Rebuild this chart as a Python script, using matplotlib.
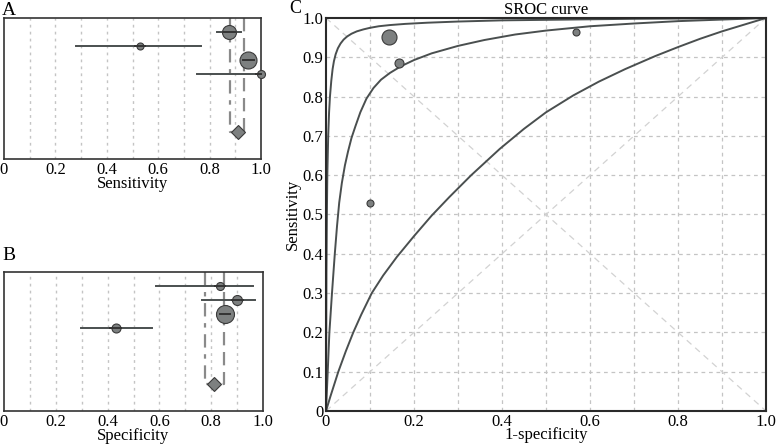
import matplotlib
matplotlib.use("Agg")
import matplotlib.pyplot as plt

plt.rcParams['font.family'] = ['Liberation Serif', 'DejaVu Serif']

# ---- data ----
sens = [0.877, 0.529, 0.951, 1.0]
sens_lo = [0.827, 0.279, 0.925, 0.752]
sens_hi = [0.921, 0.767, 0.981, 1.0]
spec = [0.834, 0.901, 0.853, 0.431]
spec_lo = [0.586, 0.763, 0.821, 0.296]
spec_hi = [0.960, 0.969, 0.885, 0.573]
pooled_sens = 0.911
pooled_sens_ci = [0.881, 0.934]
pooled_spec = 0.812
pooled_spec_ci = [0.776, 0.851]

study_fpr = [0.100, 0.143, 0.166, 0.568]
study_sens = [0.530, 0.951, 0.885, 0.964]

mid_x = [0, 0.0038, 0.0076, 0.0136, 0.020, 0.025, 0.030, 0.036, 0.043, 0.05, 0.058,
         0.067, 0.078, 0.092, 0.108, 0.125, 0.145, 0.17, 0.2, 0.24, 0.3, 0.36, 0.43,
         0.5, 0.6, 0.7, 0.8, 0.9, 1.0]
mid_y = [0, 0.097, 0.198, 0.30, 0.40, 0.47, 0.53, 0.58, 0.625, 0.66, 0.695,
         0.725, 0.76, 0.795, 0.822, 0.843, 0.86, 0.877, 0.893, 0.91, 0.929, 0.944, 0.958,
         0.968, 0.979, 0.986, 0.992, 0.996, 1.0]
low_x = [0, 0.01, 0.028, 0.045, 0.062, 0.08, 0.104, 0.13, 0.161, 0.2, 0.24, 0.28,
         0.33, 0.395, 0.45, 0.5, 0.562, 0.62, 0.68, 0.748, 0.8, 0.85, 0.9, 0.95, 1.0]
low_y = [0, 0.037, 0.1, 0.152, 0.2, 0.245, 0.3, 0.345, 0.392, 0.445, 0.497, 0.544,
         0.6, 0.667, 0.718, 0.76, 0.803, 0.838, 0.870, 0.903, 0.926, 0.947, 0.966, 0.983, 1.0]
up_x = [0, 0.001, 0.002, 0.003, 0.005, 0.007, 0.009, 0.012, 0.015, 0.018, 0.022,
        0.027, 0.033, 0.04, 0.048, 0.058, 0.07, 0.085, 0.1, 0.12, 0.145, 0.18, 0.23,
        0.3, 0.4, 0.55, 0.7, 0.85, 1.0]
up_y = [0, 0.35, 0.5, 0.6, 0.7, 0.76, 0.8, 0.84, 0.87, 0.89, 0.908,
        0.923, 0.935, 0.945, 0.953, 0.96, 0.966, 0.971, 0.975, 0.979, 0.982, 0.985, 0.988,
        0.991, 0.994, 0.996, 0.998, 0.999, 1.0]

forest_ticks = [0, 0.2, 0.4, 0.6, 0.8, 1.0]
forest_ticklabels = ["0", "0.2", "0.4", "0.6", "0.8", "1.0"]
c_yticks = [0, 0.1, 0.2, 0.3, 0.4, 0.5, 0.6, 0.7, 0.8, 0.9, 1.0]
c_yticklabels = ["0", "0.1", "0.2", "0.3", "0.4", "0.5", "0.6", "0.7", "0.8", "0.9", "1.0"]

# ---- styles ----
sens_ms = [14, 7, 17, 8]
spec_ms = [8, 10, 18, 9]
study_ms = [7, 15, 9, 7]
FILL = "#7d8080"
EDGE = "#3a3a3a"
LINE = "#4a4f4f"
GRID = "#c4c4c4"
FS = 12
PX = 0.72

fig = plt.figure(figsize=(7.77, 4.44), dpi=100)
W, H = 777, 444


def ax_at(l, t, r, b):
    return fig.add_axes([l / W, 1 - b / H, (r - l) / W, (b - t) / H])


def forest(ax, vals, lo, hi, ms, pooled, pci, xlabel):
    ax.set_xlim(0, 1)
    ax.set_ylim(10, 0)
    for g in [0.1, 0.2, 0.3, 0.4, 0.5, 0.6, 0.7, 0.8, 0.9]:
        ax.axvline(g, color=GRID, ls=(0, (2, 3)), lw=1.0, zorder=0)
    rows = [1, 2, 3, 4]
    dy = 8.05
    ax.plot([pci[0], pci[0], pooled], [0, dy, dy], color="#8a8a8a", lw=1.6,
            ls=(0, (6, 3, 2, 3)), zorder=1)
    ax.plot([pci[1], pci[1], pooled], [0, dy, dy], color="#8a8a8a", lw=1.6,
            ls=(0, (6, 3)), zorder=1)
    for r, v, a, b, m in zip(rows, vals, lo, hi, ms):
        ax.plot([a, b], [r, r], color=LINE, lw=1.4, zorder=2)
        ax.plot([v], [r], 'o', ms=m * PX, mfc=FILL, mec=EDGE, mew=0.8, zorder=3,
                clip_on=False)
        ax.plot([max(a, v - 0.02), min(b, v + 0.02)], [r, r], color="#333333", lw=1.4,
                zorder=4, clip_on=False)
    ax.plot([pooled], [dy], 'D', ms=7.5, mfc=FILL, mec=EDGE, mew=0.8, zorder=3)
    ax.set_yticks([])
    ax.set_xticks(forest_ticks)
    ax.set_xticklabels(forest_ticklabels, fontsize=FS)
    ax.tick_params(axis='x', length=0, pad=2)
    ax.set_xlabel(xlabel, fontsize=FS, labelpad=-1)
    for s in ax.spines.values():
        s.set_color("#333333")
        s.set_linewidth(1.2)


axA = ax_at(4, 18, 261, 159)
forest(axA, sens, sens_lo, sens_hi, sens_ms, pooled_sens, pooled_sens_ci, "Sensitivity")
axB = ax_at(4, 272, 263, 411)
forest(axB, spec, spec_lo, spec_hi, spec_ms, pooled_spec, pooled_spec_ci, "Specificity")

axC = ax_at(326, 18, 766, 411)
axC.set_xlim(0, 1)
axC.set_ylim(0, 1)
for g in c_yticks[1:-1]:
    axC.axvline(g, color=GRID, ls=(0, (3, 3)), lw=0.9, zorder=0)
    axC.axhline(g, color=GRID, ls=(0, (3, 3)), lw=0.9, zorder=0)
axC.plot([0, 1], [0, 1], color="#d2d2d2", ls=(0, (5, 4)), lw=0.9, zorder=0)
axC.plot([0, 1], [1, 0], color="#d2d2d2", ls=(0, (5, 4)), lw=0.9, zorder=0)
axC.plot(up_x, up_y, color=LINE, lw=1.4, zorder=2)
axC.plot(mid_x, mid_y, color=LINE, lw=1.4, zorder=2)
axC.plot(low_x, low_y, color=LINE, lw=1.4, zorder=2)
for x, y, m in zip(study_fpr, study_sens, study_ms):
    axC.plot([x], [y], 'o', ms=m * PX, mfc=FILL, mec=EDGE, mew=0.8, zorder=3)
axC.set_xticks(forest_ticks)
axC.set_xticklabels(forest_ticklabels, fontsize=FS)
axC.set_yticks(c_yticks)
axC.set_yticklabels(c_yticklabels, fontsize=FS)
axC.tick_params(length=0, pad=2)
axC.set_xlabel("1-specificity", fontsize=FS, labelpad=-2)
axC.set_ylabel("Sensitivity", fontsize=FS, labelpad=1)
axC.set_title("SROC curve", fontsize=FS, pad=2)
for s in axC.spines.values():
    s.set_color("#2a2a2a")
    s.set_linewidth(1.5)

fig.text(2 / W, 1 - 2 / H, "A", fontsize=14, va='top', ha='left')
fig.text(2 / W, 1 - 247 / H, "B", fontsize=14, va='top', ha='left')
fig.text(289 / W, 1 - 0 / H, "C", fontsize=13, va='top', ha='left')

fig.savefig("out.png", dpi=100)
